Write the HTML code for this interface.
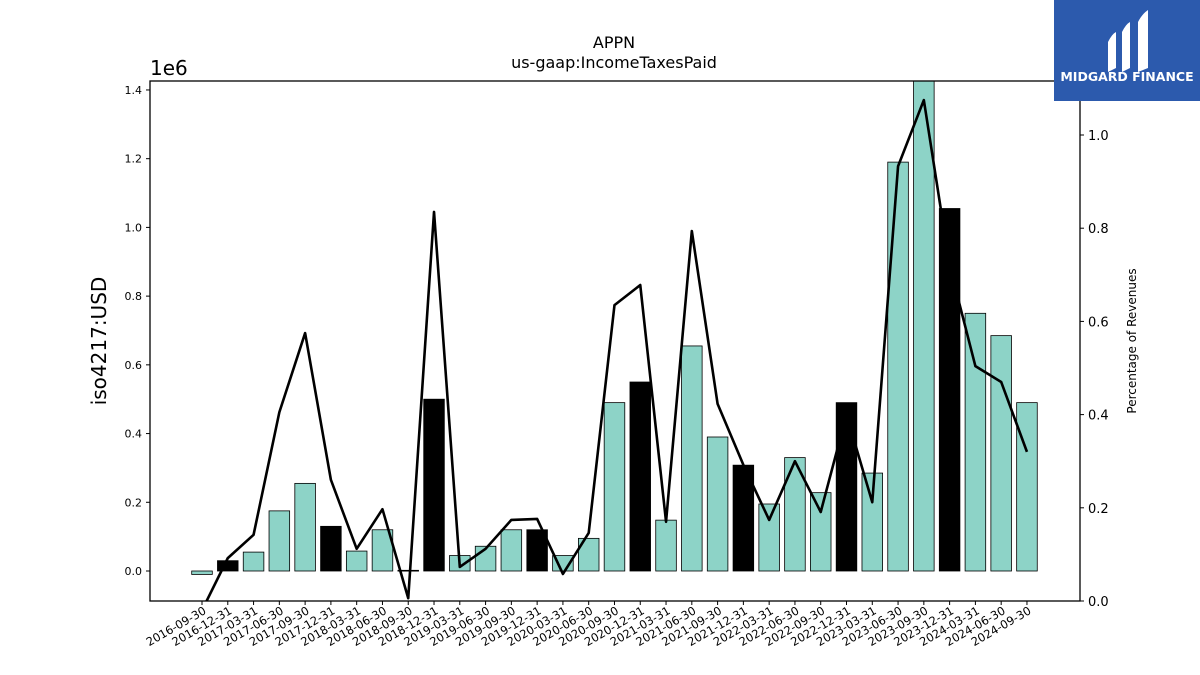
<!DOCTYPE html>
<html><head><meta charset="utf-8"><style>
body{margin:0;background:#fff;}
svg{display:block;font-family:"DejaVu Sans","Liberation Sans",sans-serif;}
</style></head><body>
<svg id="chart" width="1200" height="675" viewBox="0 0 1200 675">
<text x="614" y="48" text-anchor="middle" font-size="16">APPN</text>
<text x="614" y="68" text-anchor="middle" font-size="16">us-gaap:IncomeTaxesPaid</text>
<text x="150" y="75" font-size="20">1e6</text>
<text transform="translate(106,341) rotate(-90)" text-anchor="middle" font-size="20">iso4217:USD</text>
<text transform="translate(1136,341) rotate(-90)" text-anchor="middle" font-size="12">Percentage of Revenues</text>
<g id="bars"></g><g id="line"></g><g id="axes"></g>
<g>
<rect x="1054" y="0" width="146" height="101" fill="#2c5aad"/>
<path d="M1108 42 q4 -8 8 -10 v36 q-4 2 -8 4z M1122 32 q4 -8 8 -10 v46 q-4 2 -8 4z M1138 22 q4 -8 10 -12 v58 q-5 2 -10 4z" fill="#fff"/>
<text x="1127" y="81" text-anchor="middle" font-size="12.5" font-weight="bold" fill="#fff">MIDGARD FINANCE</text>
</g>
</svg>
<script>
const categories=["2016-09-30","2016-12-31","2017-03-31","2017-06-30","2017-09-30","2017-12-31","2018-03-31","2018-06-30","2018-09-30","2018-12-31","2019-03-31","2019-06-30","2019-09-30","2019-12-31","2020-03-31","2020-06-30","2020-09-30","2020-12-31","2021-03-31","2021-06-30","2021-09-30","2021-12-31","2022-03-31","2022-06-30","2022-09-30","2022-12-31","2023-03-31","2023-06-30","2023-09-30","2023-12-31","2024-03-31","2024-06-30","2024-09-30"];
const taxesPaid=[-0.01,0.03,0.055,0.175,0.255,0.13,0.058,0.12,0.002,0.50,0.045,0.072,0.12,0.12,0.045,0.095,0.49,0.55,0.148,0.655,0.39,0.308,0.195,0.33,0.228,0.49,0.285,1.19,1.45,1.055,0.75,0.685,0.49];
const pctRevenue=[-0.02,0.092,0.142,0.405,0.575,0.26,0.112,0.197,0.006,0.835,0.073,0.112,0.174,0.176,0.058,0.146,0.635,0.678,0.17,0.794,0.423,0.292,0.174,0.30,0.191,0.40,0.212,0.933,1.075,0.72,0.504,0.47,0.32];
const leftTicks=[0,0.2,0.4,0.6,0.8,1.0,1.2,1.4];
const rightTicks=[0,0.2,0.4,0.6,0.8,1.0];
const NS="http://www.w3.org/2000/svg";
const L=150,R=1080,T=81,B=601;
const yL=v=>571-v*343.6;
const yR=v=>601-v*466;
const xC=i=>202+i*25.78;
function mk(tag,attrs,parent){const e=document.createElementNS(NS,tag);for(const k in attrs)e.setAttribute(k,attrs[k]);parent.appendChild(e);return e;}
const svg=document.getElementById('chart');
const clip=mk('clipPath',{id:'pc'},svg);mk('rect',{x:L,y:T,width:R-L,height:B-T},clip);
const bars=document.getElementById('bars');bars.setAttribute('clip-path','url(#pc)');
taxesPaid.forEach((v,i)=>{
  const y0=yL(0),y1=yL(v);
  const black=categories[i].endsWith('12-31');
  const r=mk('rect',{x:xC(i)-10.3,y:Math.min(y0,y1),width:20.6,height:Math.max(Math.abs(y1-y0),0.8),fill:black?'#000':'#8dd3c7',stroke:'#000','stroke-width':0.8},bars);
  
  
});
const lg=document.getElementById('line');lg.setAttribute('clip-path','url(#pc)');
const pl=mk('polyline',{points:pctRevenue.map((v,i)=>xC(i)+','+yR(v)).join(' '),fill:'none',stroke:'#000','stroke-width':2.6,'stroke-linejoin':'round'},lg);


const ax=document.getElementById('axes');
const fr=mk('rect',{x:L,y:T,width:R-L,height:B-T,fill:'none',stroke:'#000','stroke-width':1.3},ax);


leftTicks.forEach(t=>{
  mk('line',{x1:L-4,x2:L,y1:yL(t),y2:yL(t),stroke:'#000'},ax);
  const tx=mk('text',{x:L-8,y:yL(t)+4,'text-anchor':'end','font-size':11},ax);tx.textContent=t.toFixed(1);
  
  
});
rightTicks.forEach(t=>{
  mk('line',{x1:R,x2:R+4,y1:yR(t),y2:yR(t),stroke:'#000'},ax);
  const tx=mk('text',{x:R+8,y:yR(t)+5,'font-size':13},ax);tx.textContent=t.toFixed(1);
  
  
});
categories.forEach((c,i)=>{
  mk('line',{x1:xC(i),x2:xC(i),y1:B,y2:B+4,stroke:'#000'},ax);
  const tx=mk('text',{transform:'translate('+(xC(i)+5)+','+(B+12)+') rotate(-30)','text-anchor':'end','font-size':11.5},ax);tx.textContent=c;
  
  
});
</script>
</body></html>
